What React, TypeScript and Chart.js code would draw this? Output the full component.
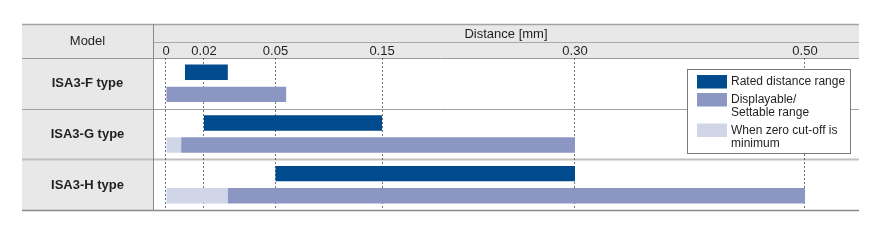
import React, { useEffect, useRef } from 'react';
import { Chart, registerables, LinearScale } from 'chart.js';

// ---------- data ----------
const MODELS = ['ISA3-F type', 'ISA3-G type', 'ISA3-H type'];
const RATED_RANGE: ([number, number] | null)[] = [[0.01, 0.03], [0.02, 0.15], [0.05, 0.30]];
const DISPLAY_RANGE: ([number, number] | null)[] = [[0, 0.06], [0.008, 0.30], [0.03, 0.50]];
const ZERO_CUTOFF_RANGE: ([number, number] | null)[] = [null, [0, 0.008], [0, 0.03]];
const DIST_TICKS = [0, 0.02, 0.05, 0.15, 0.30, 0.50];
const TICK_LABELS = ['0', '0.02', '0.05', '0.15', '0.30', '0.50'];
const AXIS_TITLE = 'Distance [mm]';
const MODEL_HEADER = 'Model';
const SERIES_NAMES = ['Rated distance range', 'Displayable/Settable range', 'When zero cut-off is minimum'];
const LEGEND_LINES = [['Rated distance range'], ['Displayable/', 'Settable range'], ['When zero cut-off is', 'minimum']];

// ---------- layout / style ----------
// where each tick sits across the plot width (printed axis is not proportional)
const TICK_FRACTIONS = [0.0184, 0.0722, 0.1735, 0.3244, 0.5977, 0.9235];
const COLORS = { rated: '#004a8e', display: '#8c96c3', zero: '#d1d5e8' };
const FONT = '"Liberation Sans", Arial, Helvetica, sans-serif';
const TEXT = '#231f20';
const HEADER_BG = '#e8e8e8';

function valueToFraction(v: number) {
  const n = DIST_TICKS.length;
  let i = 0;
  while (i < n - 2 && v > DIST_TICKS[i + 1]) i++;
  const v0 = DIST_TICKS[i], v1 = DIST_TICKS[i + 1];
  const f0 = TICK_FRACTIONS[i], f1 = TICK_FRACTIONS[i + 1];
  return f0 + ((v - v0) / (v1 - v0)) * (f1 - f0);
}
function fractionToValue(f: number) {
  const n = TICK_FRACTIONS.length;
  let i = 0;
  while (i < n - 2 && f > TICK_FRACTIONS[i + 1]) i++;
  const v0 = DIST_TICKS[i], v1 = DIST_TICKS[i + 1];
  const f0 = TICK_FRACTIONS[i], f1 = TICK_FRACTIONS[i + 1];
  return v0 + ((f - f0) / (f1 - f0)) * (v1 - v0);
}

class PiecewiseScale extends LinearScale {
  static id = 'piecewise';
  static defaults = {};
  buildTicks() {
    return DIST_TICKS.map((value) => ({ value }));
  }
  getPixelForValue(value: any) {
    if (value === null || value === undefined || isNaN(value)) return NaN;
    return (this as any).getPixelForDecimal(valueToFraction(value));
  }
  getValueForPixel(pixel: number) {
    return fractionToValue((this as any).getDecimalForPixel(pixel));
  }
}

Chart.register(...registerables, PiecewiseScale as any);

const TABLE_LEFT = 22;
const TABLE_TOP = 24;
const HEADER_MID = 42;

const tablePlugin = {
  id: 'tablePlugin',
  beforeDraw(chart: any) {
    const { ctx, chartArea } = chart;
    const { left, right, top, bottom } = chartArea;
    ctx.save();
    ctx.fillStyle = HEADER_BG;
    ctx.fillRect(TABLE_LEFT, TABLE_TOP, left - TABLE_LEFT, bottom - TABLE_TOP);
    ctx.fillRect(left, TABLE_TOP, right - left, top - TABLE_TOP);

    const hline = (y: number, x0: number, x1: number, color: string, w: number) => {
      ctx.beginPath();
      ctx.strokeStyle = color;
      ctx.lineWidth = w;
      ctx.moveTo(x0, y);
      ctx.lineTo(x1, y);
      ctx.stroke();
    };
    hline(TABLE_TOP + 0.5, TABLE_LEFT, right, '#a3a3a3', 1.5);
    hline(HEADER_MID + 0.5, left, right, '#a8a8a8', 1);
    hline(top + 0.5, TABLE_LEFT, right, '#9a9a9a', 1);
    const yScale = chart.scales.y;
    const rowH = (bottom - top) / MODELS.length;
    for (let i = 1; i < MODELS.length; i++) {
      const y = Math.round(top + rowH * i) + 0.5;
      hline(y, TABLE_LEFT, right, i === 1 ? '#a0a0a0' : '#c0c0c0', i === 1 ? 1 : 2);
    }
    hline(bottom + 0.5, TABLE_LEFT, right, '#8a8a8a', 1.5);
    ctx.beginPath();
    ctx.strokeStyle = '#8a8a8a';
    ctx.lineWidth = 1;
    ctx.moveTo(left + 0.5, TABLE_TOP);
    ctx.lineTo(left + 0.5, bottom);
    ctx.stroke();

    ctx.fillStyle = TEXT;
    ctx.textAlign = 'center';
    ctx.textBaseline = 'middle';
    ctx.font = `13px ${FONT}`;
    ctx.fillText(MODEL_HEADER, (TABLE_LEFT + left) / 2, (TABLE_TOP + top) / 2 + 0.5);
    ctx.fillText(AXIS_TITLE, (left + right) / 2, (TABLE_TOP + HEADER_MID) / 2 + 1);
    ctx.font = `bold 13px ${FONT}`;
    MODELS.forEach((m, i) => {
      ctx.fillText(m, (TABLE_LEFT + left) / 2, yScale.getPixelForValue(i) + 0.5);
    });
    ctx.restore();
  },
  afterDraw(chart: any) {
    const { ctx, chartArea } = chart;
    const w = 163, h = 84;
    const bx = chartArea.right - 9 - w;
    const by = chartArea.top + 11;
    ctx.save();
    ctx.fillStyle = '#ffffff';
    ctx.fillRect(bx, by, w, h);
    ctx.strokeStyle = '#7a7a7a';
    ctx.lineWidth = 1;
    ctx.strokeRect(bx + 0.5, by + 0.5, w, h);
    const ds = chart.data.datasets;
    const order = [0, 1, 2];
    let y = by + 6;
    ctx.font = `12px ${FONT}`;
    ctx.textAlign = 'left';
    ctx.textBaseline = 'middle';
    order.forEach((di, k) => {
      const lines = LEGEND_LINES[k];
      ctx.fillStyle = ds[di].backgroundColor;
      ctx.fillRect(bx + 10, y, 30, 13.5);
      ctx.fillStyle = TEXT;
      lines.forEach((ln, j) => ctx.fillText(ln, bx + 44, y + 7 + j * 13));
      y += lines.length * 12.5 + 5.5;
    });
    ctx.restore();
  },
};

export default function App() {
  const canvasRef = useRef<HTMLCanvasElement | null>(null);
  useEffect(() => {
    const canvas = canvasRef.current;
    if (!canvas) return;
    const chart = new Chart(canvas, {
      type: 'bar',
      data: {
        labels: MODELS,
        datasets: [
          {
            label: SERIES_NAMES[0],
            data: RATED_RANGE as any,
            backgroundColor: COLORS.rated,
            stack: 'rated',
          },
          {
            label: SERIES_NAMES[1],
            data: DISPLAY_RANGE as any,
            backgroundColor: COLORS.display,
            stack: 'display',
          },
          {
            label: SERIES_NAMES[2],
            data: ZERO_CUTOFF_RANGE as any,
            backgroundColor: COLORS.zero,
            stack: 'display',
          },
        ],
      },
      options: {
        indexAxis: 'y',
        animation: false,
        responsive: true,
        maintainAspectRatio: false,
        categoryPercentage: 0.87,
        barPercentage: 0.7,
        layout: { padding: { left: 153, right: 14, top: 42, bottom: 40 } },
        plugins: { legend: { display: false }, tooltip: { enabled: false } },
        scales: {
          x: {
            type: 'piecewise' as any,
            position: 'top',
            min: 0,
            max: 0.55,
            stacked: false,
            z: 1,
            afterFit: (scale: any) => {
              scale.height = 16;
            },
            grid: { color: 'rgba(70,70,80,0.75)', lineWidth: 1, drawTicks: false },
            border: { display: false, dash: [2, 2] },
            ticks: {
              autoSkip: false,
              maxRotation: 0,
              padding: -1,
              color: TEXT,
              font: { family: FONT, size: 13 },
              callback: (_v: any, i: number) => TICK_LABELS[i],
            },
          } as any,
          y: {
            type: 'category',
            stacked: true,
            display: false,
          },
        },
      },
      plugins: [tablePlugin],
    });
    return () => chart.destroy();
  }, []);
  return (
    <div style={{ position: 'absolute', left: 0, top: 0, width: 873, height: 250, background: '#fff' }}>
      <canvas ref={canvasRef} />
    </div>
  );
}
